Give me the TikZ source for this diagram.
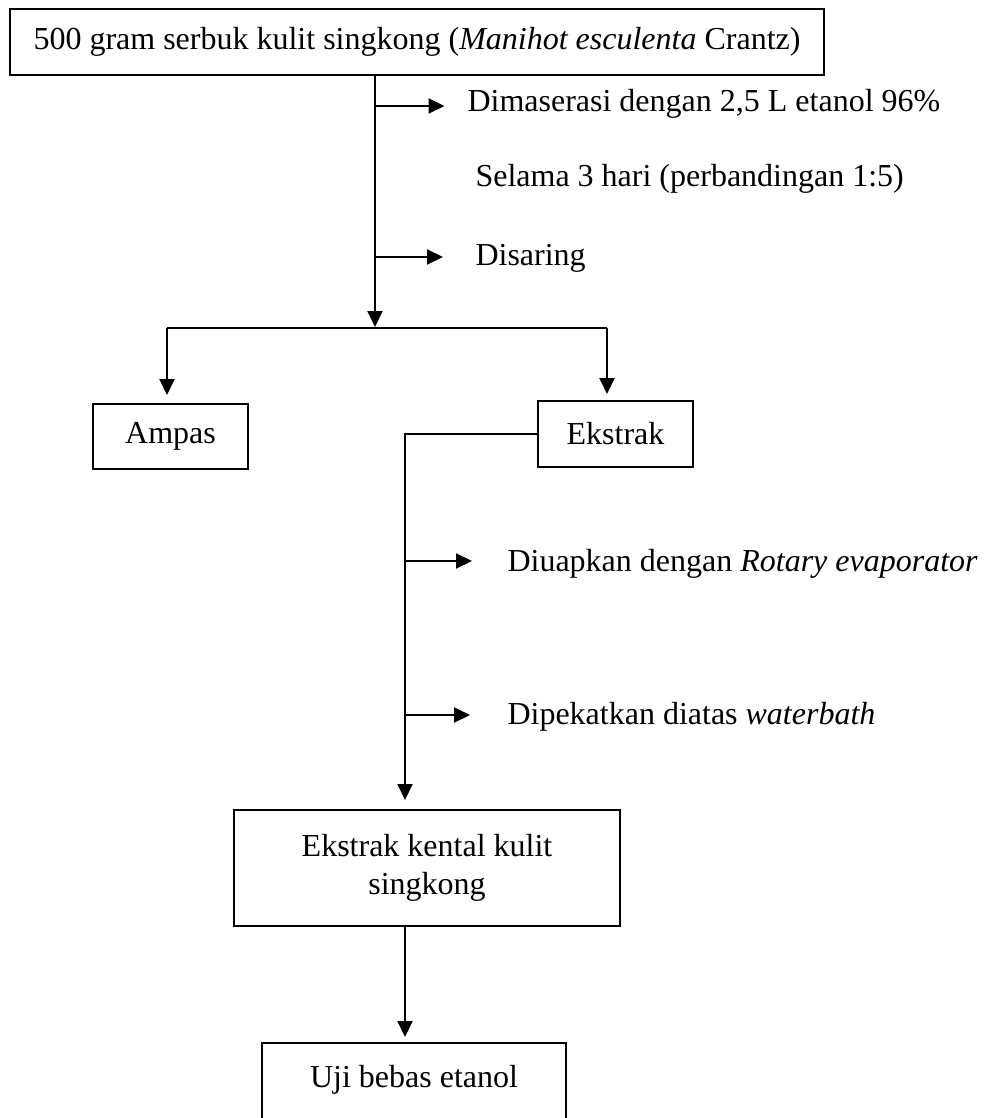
\documentclass[tikz,border=0pt]{standalone}
\usepackage{fontspec}
\setmainfont{Liberation Serif}
\usetikzlibrary{arrows.meta}

\begin{document}
\begin{tikzpicture}[x=0.4pt, y=-0.4pt,
    font=\fontsize{12.8}{15.2}\selectfont,
    box/.style={draw, line width=0.8pt, align=center, inner sep=0pt},
    lbl/.style={anchor=base west, inner sep=0pt},
    arr/.style={line width=0.8pt, -{Triangle[length=6.4pt, width=6pt]}}]

% Page
\useasboundingbox (0,0) rectangle (987,1118);
\clip (0,0) rectangle (987,1118);

% Boxes
\node[box, minimum width=325.6pt, minimum height=26.4pt] (serbuk) at (417,42) {500 gram serbuk kulit singkong (\textit{Manihot esculenta} Crantz)};
\node[box, minimum width=62pt, minimum height=26pt] (ampas) at (170.5,436.5) {Ampas};
\node[box, minimum width=62pt, minimum height=26.4pt] (ekstrak) at (615.5,434) {Ekstrak};
\node[box, minimum width=154.4pt, minimum height=46.4pt] (kental) at (427,868) {Ekstrak kental kulit\\singkong};
\node[box, minimum width=121.6pt, minimum height=46.4pt, anchor=north] (uji) at (414,1042) {Uji bebas etanol\\\strut};

% Labels
\node[lbl] (maserasi) at (467,112) {Dimaserasi dengan 2,5 L etanol 96\%};
\node[lbl] (selama) at (475,187) {Selama 3 hari (perbandingan 1:5)};
\node[lbl] (saring) at (475,265) {Disaring};
\node[lbl] (uap) at (507,571) {Diuapkan dengan \textit{Rotary evaporator}};
\node[lbl] (pekat) at (507,724) {Dipekatkan diatas \textit{waterbath}};

% Coordinates
\coordinate (m1) at (375,106);
\coordinate (m2) at (375,257);
\coordinate (split) at (375,327);
\coordinate (bl) at (167,328);
\coordinate (br) at (607,328);
\coordinate (turn) at (405,434);
\coordinate (m3) at (405,561);
\coordinate (m4) at (405,715);

% Arrows
\draw[arr] (split |- serbuk.south) -- (split);
\draw[arr, shorten >=9pt] (m1) -- (m1 -| maserasi.west);
\draw[arr, shorten >=12.8pt] (m2) -- (m2 -| saring.west);
\draw[line width=0.8pt] (bl) -- (br);
\draw[arr, shorten >=3.2pt] (bl) -- (bl |- ampas.north);
\draw[arr, shorten >=2.4pt] (br) -- (br |- ekstrak.north);
\draw[arr, shorten >=3.6pt] (ekstrak.west) -- (turn) -- (turn |- kental.north);
\draw[arr, shorten >=14pt] (m3) -- (m3 -| uap.west);
\draw[arr, shorten >=14.8pt] (m4) -- (m4 -| pekat.west);
\draw[arr, shorten >=2pt] (turn |- kental.south) -- (turn |- uji.north);

\end{tikzpicture}
\end{document}
